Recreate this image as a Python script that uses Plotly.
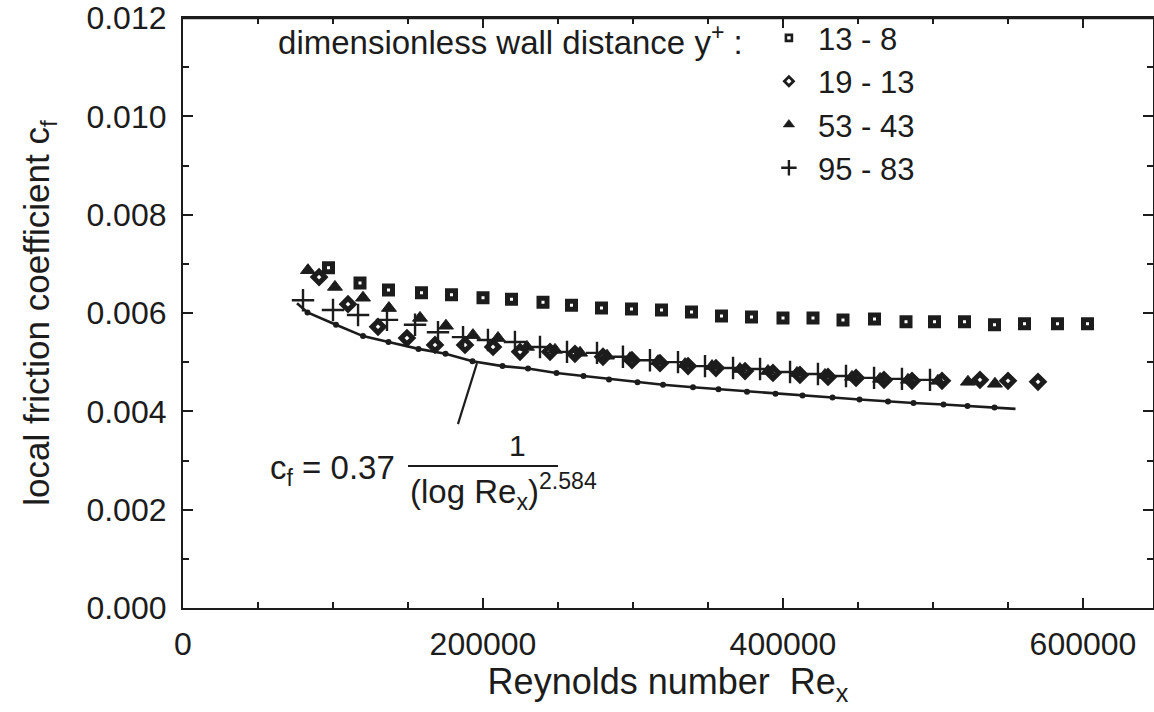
import plotly.graph_objects as go

# ---------------- data ----------------
# y+ 13 - 8 (squares)
re_sq = [97000, 118000, 137000, 159000, 179000, 200000, 219000, 240000, 259000, 279000,
         299000, 319000, 339000, 359000, 379000, 400000, 420000, 440000, 461000, 482000,
         501000, 521000, 541000, 561000, 583000, 603000]
cf_sq = [0.00692, 0.00661, 0.00647, 0.00641, 0.00637, 0.00631, 0.00628, 0.00622, 0.00616, 0.00610,
         0.00608, 0.00606, 0.00602, 0.00594, 0.00592, 0.00590, 0.00590, 0.00586, 0.00588, 0.00582,
         0.00582, 0.00582, 0.00576, 0.00578, 0.00578, 0.00578]

# y+ 19 - 13 (diamonds)
re_di = [90700, 110000, 130000, 149300, 168000, 188000, 206700, 224700, 244700, 261300,
         280000, 299300, 318000, 336700, 355300, 374700, 393300, 411300, 430000, 448700,
         467300, 486000, 506000, 531300, 550000, 570000]
cf_di = [0.00673, 0.00618, 0.00572, 0.00549, 0.00535, 0.00535, 0.00531, 0.00521, 0.00521, 0.00517,
         0.00511, 0.00504, 0.00498, 0.00492, 0.00488, 0.00482, 0.00478, 0.00474, 0.00470, 0.00468,
         0.00464, 0.00462, 0.00462, 0.00464, 0.00462, 0.00460]

# y+ 53 - 43 (triangles)
re_tr = [83300, 101300, 120000, 137300, 158000, 175300, 193300, 210000, 229300, 248000,
         264700, 282700, 298000, 316700, 334700, 352700, 371300, 390000, 409300, 428000,
         446000, 464700, 483300, 503300, 523300, 541300]
cf_tr = [0.00687, 0.00653, 0.00631, 0.00610, 0.00590, 0.00574, 0.00555, 0.00549, 0.00531, 0.00525,
         0.00519, 0.00513, 0.00508, 0.00502, 0.00496, 0.00492, 0.00486, 0.00482, 0.00478, 0.00474,
         0.00470, 0.00466, 0.00464, 0.00462, 0.00460, 0.00456]

# y+ 95 - 83 (plus)
re_pl = [80000, 100000, 116700, 136000, 154700, 170000, 186700, 203300, 221300, 238000,
         256000, 276000, 293300, 311300, 330000, 348000, 366700, 384700, 404700, 423300,
         442000, 460700, 479300, 498000]
cf_pl = [0.00626, 0.00606, 0.00596, 0.00586, 0.00576, 0.00561, 0.00551, 0.00545, 0.00541, 0.00531,
         0.00521, 0.00519, 0.00511, 0.00504, 0.00500, 0.00492, 0.00488, 0.00486, 0.00480, 0.00476,
         0.00472, 0.00468, 0.00466, 0.00464]

# correlation curve c_f = 0.37 / (log Re_x)^2.584
re_fit = [76000, 83000, 102000, 120000, 137000, 157000, 175000, 193000, 213000, 230000,
          249000, 267000, 284000, 303000, 320000, 340000, 357000, 376000, 395000, 413000,
          433000, 451000, 470000, 487000, 507000, 523000, 541000, 555000]
cf_fit = [0.00620, 0.00601, 0.00576, 0.00553, 0.00541, 0.00527, 0.00517, 0.00502, 0.00492, 0.00487,
          0.00478, 0.00472, 0.00465, 0.00459, 0.00454, 0.00449, 0.00445, 0.00440, 0.00436, 0.00432,
          0.00428, 0.00424, 0.00420, 0.00417, 0.00414, 0.00411, 0.00408, 0.00405]

legend_labels = ["13 - 8", "19 - 13", "53 - 43", "95 - 83"]
x_ticks = [0, 200000, 400000, 600000]
x_tick_text = ["0", "200000", "400000", "600000"]
y_ticks = [0.000, 0.002, 0.004, 0.006, 0.008, 0.010, 0.012]
y_tick_text = ["0.000", "0.002", "0.004", "0.006", "0.008", "0.010", "0.012"]

# ---------------- styling ----------------
INK = "#1c1c1c"
FONT = "Liberation Sans, Arial, Helvetica, sans-serif"

fig = go.Figure()

# fitted curve line and its small dots
fig.add_trace(go.Scatter(x=re_fit, y=cf_fit, mode="lines",
                         line=dict(color=INK, width=2.6), showlegend=False, hoverinfo="skip"))
fig.add_trace(go.Scatter(x=re_fit[1:-1], y=cf_fit[1:-1], mode="markers",
                         marker=dict(symbol="circle", size=6, color=INK), showlegend=False))

# measured series (plot markers)
styles = [
    dict(symbol="square", size=8, color="white", line=dict(color=INK, width=5)),
    dict(symbol="diamond", size=9, color="white", line=dict(color=INK, width=5)),
    dict(symbol="triangle-up", size=13, color=INK, line=dict(color=INK, width=1)),
    dict(symbol="cross-thin", size=16, color=INK, line=dict(color=INK, width=2.4)),
]
series = [(re_sq, cf_sq), (re_di, cf_di), (re_tr, cf_tr), (re_pl, cf_pl)]
for (xs, ys), st in zip(series, styles):
    fig.add_trace(go.Scatter(x=xs, y=ys, mode="markers", marker=st, showlegend=False))

# legend entries (smaller symbols as in the reference legend)
leg_styles = [
    dict(symbol="square", size=6, color="white", line=dict(color=INK, width=2.6)),
    dict(symbol="diamond", size=7, color="white", line=dict(color=INK, width=2.8)),
    dict(symbol="triangle-up", size=10, color=INK, line=dict(color=INK, width=0.5)),
    dict(symbol="cross-thin", size=11, color=INK, line=dict(color=INK, width=2.4)),
]
for lab, st in zip(legend_labels, leg_styles):
    fig.add_trace(go.Scatter(x=[None], y=[None], mode="markers", marker=st, name=lab))

# formula annotation
fig.add_annotation(x=142667, y=0.00281, xref="x", yref="y", text="c<sub>f</sub> = 0.37",
                   showarrow=False, xanchor="right", yanchor="middle",
                   font=dict(size=33, color=INK, family=FONT))
fig.add_annotation(x=222667, y=0.00330, xref="x", yref="y", text="1",
                   showarrow=False, xanchor="center", yanchor="middle",
                   font=dict(size=30, color=INK, family=FONT))
fig.add_annotation(x=150000, y=0.00236, xref="x", yref="y",
                   text="(log Re<sub>x</sub>)<sup>2.584</sup>",
                   showarrow=False, xanchor="left", yanchor="middle",
                   font=dict(size=33, color=INK, family=FONT))
fig.add_shape(type="line", xref="x", yref="y", x0=150000, x1=250000, y0=0.00289, y1=0.00289,
              line=dict(color=INK, width=2))
fig.add_shape(type="line", xref="x", yref="y", x0=196000, x1=183300, y0=0.00498, y1=0.00374,
              line=dict(color=INK, width=2.2))
# frame line along the top of the plot area
fig.add_shape(type="line", xref="paper", yref="paper", x0=0, x1=1, y0=1, y1=1,
              line=dict(color=INK, width=2.6), layer="above")

axis_common = dict(
    showline=True, linecolor=INK, linewidth=2.2, mirror="ticks",
    ticks="inside", tickcolor=INK, tickwidth=2, ticklen=10,
    showgrid=False, zeroline=False, automargin=False,
    ticklabeloverflow="allow",
    tickfont=dict(size=32, color=INK, family=FONT),
)

fig.update_layout(
    width=1154, height=712,
    margin=dict(l=183, r=1, t=18, b=104),
    paper_bgcolor="white", plot_bgcolor="white",
    font=dict(family=FONT, color=INK, size=32),
    xaxis=dict(range=[0, 646667], tickvals=x_ticks, ticktext=x_tick_text,
               minor=dict(dtick=50000, tick0=0, ticks="inside", ticklen=6, tickwidth=1.5, tickcolor=INK),
               title=dict(text="Reynolds number  Re<sub>x</sub>", font=dict(size=36, color=INK, family=FONT),
                          standoff=3),
               ticklabelstandoff=6,
               **axis_common),
    yaxis=dict(range=[0, 0.012], tickvals=y_ticks, ticktext=y_tick_text,
               minor=dict(dtick=0.001, tick0=0, ticks="inside", ticklen=6, tickwidth=1.5, tickcolor=INK),
               title=dict(text="local friction coefficient c<sub>f</sub>", font=dict(size=35, color=INK, family=FONT),
                          standoff=26),
               ticklabelstandoff=8,
               **axis_common),
    legend=dict(
        x=0.0959, y=1.0115, xanchor="left", yanchor="top",
        bgcolor="rgba(0,0,0,0)", borderwidth=0,
        font=dict(size=31, color=INK, family=FONT),
        title=dict(text="dimensionless wall distance y<sup>+</sup> :&nbsp;", side="left",
                   font=dict(size=33, color=INK, family=FONT)),
        itemwidth=48, tracegroupgap=0,
    ),
)

# remove the browser's default 8 px page margin so the figure fills the window
fig.write_html("out.html", config={"displayModeBar": False},
               post_script="document.body.style.margin='0px';")
